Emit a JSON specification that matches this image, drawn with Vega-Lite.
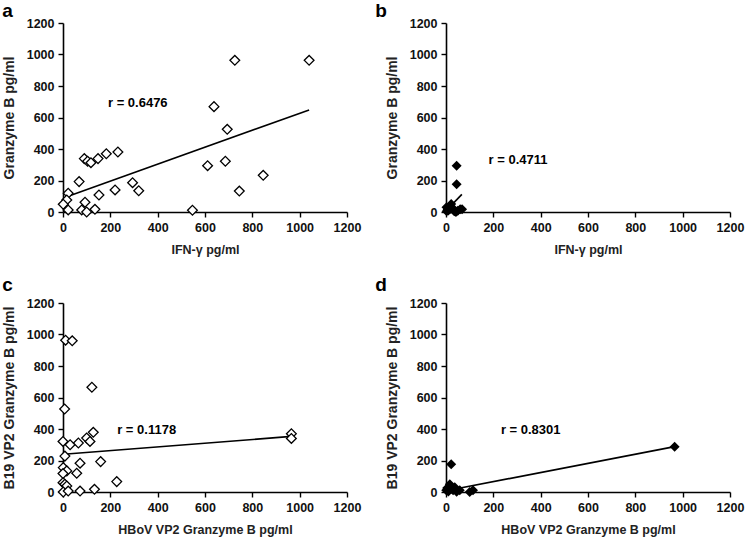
{
  "$schema": "https://vega.github.io/schema/vega-lite/v6.json",
  "padding": {"left": 2, "top": 2, "right": 2, "bottom": 2},
  "background": "white",
  "config": {
    "view": {"stroke": null},
    "font": "Liberation Sans",
    "axis": {
      "grid": false,
      "domainColor": "#000",
      "domainWidth": 1.6,
      "tickColor": "#000",
      "tickWidth": 1.4,
      "tickSize": 5,
      "tickCount": 10,
      "labelFont": "Liberation Sans",
      "labelFontWeight": "bold",
      "labelFontSize": 12.5,
      "labelColor": "#111",
      "labelPadding": 4,
      "titleFont": "Liberation Sans",
      "titleFontWeight": "bold",
      "titleColor": "#222",
      "labelFlush": false,
      "labelOverlap": false,
      "format": "d"
    },
    "axisX": {"titleFontSize": 12.5, "titlePadding": 10},
    "axisY": {"titleFontSize": 14, "titlePadding": 10},
    "title": {"font": "Liberation Sans", "fontSize": 19, "fontWeight": "bold", "anchor": "start", "frame": "bounds", "color": "#000", "offset": -4}
  },
  "datasets": {
    "a_pts": [
      {"x": 1040, "y": 963}, {"x": 726, "y": 963}, {"x": 638, "y": 669}, {"x": 694, "y": 525},
      {"x": 611, "y": 294}, {"x": 686, "y": 322}, {"x": 846, "y": 233}, {"x": 745, "y": 133},
      {"x": 547, "y": 11}, {"x": 232, "y": 381}, {"x": 183, "y": 370}, {"x": 148, "y": 339},
      {"x": 90, "y": 339}, {"x": 104, "y": 322}, {"x": 118, "y": 313}, {"x": 220, "y": 140},
      {"x": 294, "y": 186}, {"x": 320, "y": 135}, {"x": 152, "y": 108}, {"x": 68, "y": 193},
      {"x": 22, "y": 119}, {"x": 16, "y": 76}, {"x": 1, "y": 49}, {"x": 22, "y": 13},
      {"x": 79, "y": 13}, {"x": 93, "y": 62}, {"x": 100, "y": 0}, {"x": 135, "y": 17}
    ],
    "a_line": [{"x": 16, "y": 97}, {"x": 1040, "y": 648}],
    "a_lab": [{"x": 190, "y": 692, "t": "r = 0.6476"}],
    "b_pts": [
      {"x": 45, "y": 294}, {"x": 45, "y": 176}, {"x": 60, "y": 17}, {"x": 68, "y": 17},
      {"x": 7, "y": 17}, {"x": 14, "y": 34}, {"x": 22, "y": 51}, {"x": 35, "y": 4},
      {"x": 42, "y": 0}, {"x": 3, "y": 5}, {"x": 10, "y": 10}, {"x": 18, "y": 20},
      {"x": 28, "y": 25}, {"x": 50, "y": 8}, {"x": 2, "y": 30}
    ],
    "b_line": [{"x": 5, "y": 15}, {"x": 67, "y": 112}],
    "b_lab": [{"x": 180, "y": 330, "t": "r = 0.4711"}],
    "c_pts": [
      {"x": 11, "y": 964}, {"x": 39, "y": 960}, {"x": 122, "y": 665}, {"x": 7, "y": 527},
      {"x": 965, "y": 370}, {"x": 965, "y": 340}, {"x": 0, "y": 321}, {"x": 30, "y": 300},
      {"x": 65, "y": 311}, {"x": 100, "y": 343}, {"x": 128, "y": 379}, {"x": 114, "y": 321},
      {"x": 8, "y": 228}, {"x": 72, "y": 183}, {"x": 159, "y": 193}, {"x": 1, "y": 155},
      {"x": 16, "y": 134}, {"x": 58, "y": 119}, {"x": 0, "y": 117}, {"x": 0, "y": 59},
      {"x": 8, "y": 49}, {"x": 16, "y": 38}, {"x": 1, "y": 0}, {"x": 22, "y": 6},
      {"x": 72, "y": 6}, {"x": 133, "y": 17}, {"x": 227, "y": 66}
    ],
    "c_line": [{"x": 16, "y": 241}, {"x": 965, "y": 353}],
    "c_lab": [{"x": 229, "y": 394, "t": "r = 0.1178"}],
    "d_pts": [
      {"x": 966, "y": 288}, {"x": 22, "y": 176}, {"x": 16, "y": 49}, {"x": 1, "y": 11},
      {"x": 30, "y": 11}, {"x": 58, "y": 11}, {"x": 100, "y": 0}, {"x": 114, "y": 11},
      {"x": 37, "y": 30}, {"x": 5, "y": 25}, {"x": 10, "y": 3}, {"x": 45, "y": 2},
      {"x": 25, "y": 20}
    ],
    "d_line": [{"x": 22, "y": 14}, {"x": 966, "y": 288}],
    "d_lab": [{"x": 232, "y": 394, "t": "r = 0.8301"}]
  },
  "spacing": 20,
  "vconcat": [
    {
      "spacing": 14,
      "hconcat": [
        {
          "title": {"text": "a"},
          "width": 284, "height": 189,
          "layer": [
            {"data": {"name": "a_line"}, "mark": {"type": "line", "color": "#000", "strokeWidth": 1.6},
             "encoding": {"x": {"field": "x", "type": "quantitative", "scale": {"domain": [0, 1200], "nice": false}, "axis": {"values": [0, 200, 400, 600, 800, 1000, 1200], "labelOverlap": false, "title": "IFN-γ  pg/ml"}},
                          "y": {"field": "y", "type": "quantitative", "scale": {"domain": [0, 1200], "nice": false}, "axis": {"values": [0, 200, 400, 600, 800, 1000, 1200], "labelOverlap": false, "title": "Granzyme B pg/ml"}}}},
            {"data": {"name": "a_pts"}, "mark": {"type": "point", "shape": "diamond", "filled": true, "fill": "#fff", "stroke": "#000", "strokeWidth": 1.3, "size": 95, "opacity": 1},
             "encoding": {"x": {"field": "x", "type": "quantitative"}, "y": {"field": "y", "type": "quantitative"}}},
            {"data": {"name": "a_lab"}, "mark": {"type": "text", "align": "left", "baseline": "middle", "fontWeight": "bold", "fontSize": 13, "color": "#000"},
             "encoding": {"x": {"field": "x", "type": "quantitative"}, "y": {"field": "y", "type": "quantitative"}, "text": {"field": "t"}}}
          ]
        },
        {
          "title": {"text": "b", "dx": -10},
          "width": 284, "height": 189,
          "layer": [
            {"data": {"name": "b_line"}, "mark": {"type": "line", "color": "#000", "strokeWidth": 1.6},
             "encoding": {"x": {"field": "x", "type": "quantitative", "scale": {"domain": [0, 1200], "nice": false}, "axis": {"values": [0, 200, 400, 600, 800, 1000, 1200], "labelOverlap": false, "title": "IFN-γ  pg/ml"}},
                          "y": {"field": "y", "type": "quantitative", "scale": {"domain": [0, 1200], "nice": false}, "axis": {"values": [0, 200, 400, 600, 800, 1000, 1200], "labelOverlap": false, "title": "Granzyme B pg/ml"}}}},
            {"data": {"name": "b_pts"}, "mark": {"type": "point", "shape": "diamond", "filled": true, "color": "#000", "size": 100, "opacity": 1},
             "encoding": {"x": {"field": "x", "type": "quantitative"}, "y": {"field": "y", "type": "quantitative"}}},
            {"data": {"name": "b_lab"}, "mark": {"type": "text", "align": "left", "baseline": "middle", "fontWeight": "bold", "fontSize": 13, "color": "#000"},
             "encoding": {"x": {"field": "x", "type": "quantitative"}, "y": {"field": "y", "type": "quantitative"}, "text": {"field": "t"}}}
          ]
        }
      ]
    },
    {
      "spacing": 14,
      "hconcat": [
        {
          "title": {"text": "c", "offset": 2},
          "width": 284, "height": 189,
          "layer": [
            {"data": {"name": "c_line"}, "mark": {"type": "line", "color": "#000", "strokeWidth": 1.6},
             "encoding": {"x": {"field": "x", "type": "quantitative", "scale": {"domain": [0, 1200], "nice": false}, "axis": {"values": [0, 200, 400, 600, 800, 1000, 1200], "labelOverlap": false, "title": "HBoV VP2 Granzyme B  pg/ml"}},
                          "y": {"field": "y", "type": "quantitative", "scale": {"domain": [0, 1200], "nice": false}, "axis": {"values": [0, 200, 400, 600, 800, 1000, 1200], "labelOverlap": false, "title": "B19 VP2 Granzyme B pg/ml"}}}},
            {"data": {"name": "c_pts"}, "mark": {"type": "point", "shape": "diamond", "filled": true, "fill": "#fff", "stroke": "#000", "strokeWidth": 1.3, "size": 95, "opacity": 1},
             "encoding": {"x": {"field": "x", "type": "quantitative"}, "y": {"field": "y", "type": "quantitative"}}},
            {"data": {"name": "c_lab"}, "mark": {"type": "text", "align": "left", "baseline": "middle", "fontWeight": "bold", "fontSize": 13, "color": "#000"},
             "encoding": {"x": {"field": "x", "type": "quantitative"}, "y": {"field": "y", "type": "quantitative"}, "text": {"field": "t"}}}
          ]
        },
        {
          "title": {"text": "d", "dx": -10, "offset": 2},
          "width": 284, "height": 189,
          "layer": [
            {"data": {"name": "d_line"}, "mark": {"type": "line", "color": "#000", "strokeWidth": 1.6},
             "encoding": {"x": {"field": "x", "type": "quantitative", "scale": {"domain": [0, 1200], "nice": false}, "axis": {"values": [0, 200, 400, 600, 800, 1000, 1200], "labelOverlap": false, "title": "HBoV VP2 Granzyme B  pg/ml"}},
                          "y": {"field": "y", "type": "quantitative", "scale": {"domain": [0, 1200], "nice": false}, "axis": {"values": [0, 200, 400, 600, 800, 1000, 1200], "labelOverlap": false, "title": "B19 VP2 Granzyme B pg/ml"}}}},
            {"data": {"name": "d_pts"}, "mark": {"type": "point", "shape": "diamond", "filled": true, "color": "#000", "size": 100, "opacity": 1},
             "encoding": {"x": {"field": "x", "type": "quantitative"}, "y": {"field": "y", "type": "quantitative"}}},
            {"data": {"name": "d_lab"}, "mark": {"type": "text", "align": "left", "baseline": "middle", "fontWeight": "bold", "fontSize": 13, "color": "#000"},
             "encoding": {"x": {"field": "x", "type": "quantitative"}, "y": {"field": "y", "type": "quantitative"}, "text": {"field": "t"}}}
          ]
        }
      ]
    }
  ]
}
